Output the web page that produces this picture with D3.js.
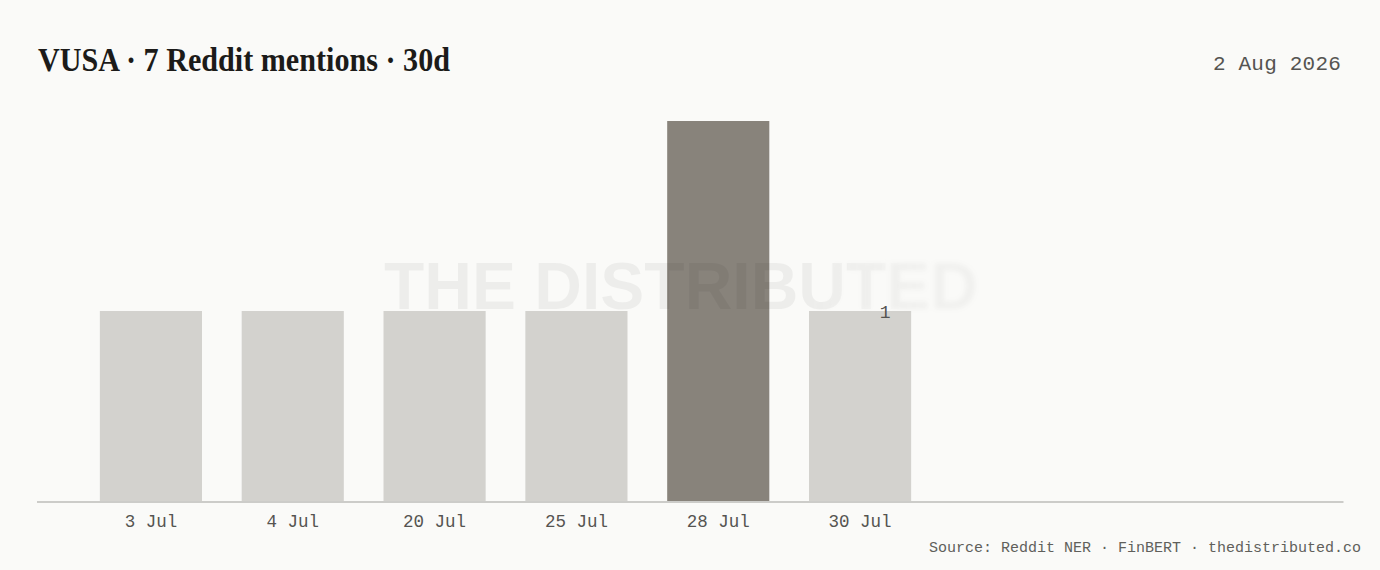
<!DOCTYPE html>
<html>
<head>
<meta charset="utf-8">
<script src="https://cdn.jsdelivr.net/npm/d3@7"></script>
<style>
  html, body { margin: 0; padding: 0; background: #fafaf8; }
  svg { display: block; }
</style>
</head>
<body>
<svg id="chart" width="1380" height="570"></svg>
<script>
const categories = ["3 Jul", "4 Jul", "20 Jul", "25 Jul", "28 Jul", "30 Jul"];
const mentions = [1, 1, 1, 1, 2, 1];
const highlight = ["28 Jul"];
const titleText = "VUSA · 7 Reddit mentions · 30d";
const dateText = "2 Aug 2026";
const sourceText = "Source: Reddit NER · FinBERT · thedistributed.co";
const watermarkText = "THE DISTRIBUTED";
const lastLabel = "1";

const svg = d3.select("#chart");
const W = 1380, H = 570;

svg.append("rect").attr("width", W).attr("height", H).attr("fill", "#fafaf8");

const x = d3.scaleBand().domain(categories).range([80, 931]).paddingInner(0.28).paddingOuter(0.14);
const y = d3.scaleLinear().domain([0, 2]).range([501, 121]);

// title
svg.append("text")
  .attr("x", 38).attr("y", 71)
  .attr("font-family", "'Liberation Serif', 'DejaVu Serif', serif")
  .attr("font-weight", "bold")
  .attr("font-size", 34)
  .attr("fill", "#1c1b19")
  .attr("textLength", 412)
  .attr("lengthAdjust", "spacingAndGlyphs")
  .text(titleText);

svg.append("text")
  .attr("x", 1341).attr("y", 70)
  .attr("text-anchor", "end")
  .attr("font-family", "'Liberation Mono', 'DejaVu Sans Mono', monospace")
  .attr("font-size", 21)
  .attr("letter-spacing", 0.2)
  .attr("fill", "#555451")
  .text(dateText);

// bars
svg.append("g").selectAll("rect")
  .data(categories.map((c, i) => ({c, v: mentions[i]})))
  .join("rect")
  .attr("x", d => x(d.c))
  .attr("width", x.bandwidth())
  .attr("y", d => y(d.v))
  .attr("height", d => y(0) - y(d.v))
  .attr("fill", d => highlight.includes(d.c) ? "#88837b" : "#d3d2ce");

// axis
const axis = svg.append("g").attr("transform", `translate(0,${y(0)})`)
  .call(d3.axisBottom(x).tickSize(0).tickPadding(14));
axis.select(".domain").remove();
axis.selectAll("text")
  .attr("font-family", "'Liberation Mono', 'DejaVu Sans Mono', monospace")
  .attr("font-size", 17.5)
  .attr("fill", "#555451");
svg.append("line")
  .attr("x1", 37).attr("x2", 1343.5)
  .attr("y1", y(0) + 1).attr("y2", y(0) + 1)
  .attr("stroke", "#bdbdba").attr("stroke-width", 1.6);

// watermark
const defs = svg.append("defs");
const g1 = defs.append("linearGradient").attr("id", "fadeA").attr("gradientUnits", "userSpaceOnUse")
  .attr("x1", 810).attr("x2", 920).attr("y1", 0).attr("y2", 0);
g1.append("stop").attr("offset", 0).attr("stop-color", "#fff");
g1.append("stop").attr("offset", 1).attr("stop-color", "#000");
const g2 = defs.append("linearGradient").attr("id", "fadeB").attr("gradientUnits", "userSpaceOnUse")
  .attr("x1", 810).attr("x2", 920).attr("y1", 0).attr("y2", 0);
g2.append("stop").attr("offset", 0).attr("stop-color", "#000");
g2.append("stop").attr("offset", 1).attr("stop-color", "#bbb");
defs.append("mask").attr("id", "mA").attr("maskUnits", "userSpaceOnUse")
  .attr("x", 0).attr("y", 0).attr("width", W).attr("height", H)
  .append("rect").attr("width", W).attr("height", H).attr("fill", "url(#fadeA)");
defs.append("mask").attr("id", "mB").attr("maskUnits", "userSpaceOnUse")
  .attr("x", 0).attr("y", 0).attr("width", W).attr("height", H)
  .append("rect").attr("width", W).attr("height", H).attr("fill", "url(#fadeB)");
defs.append("filter").attr("id", "blur").attr("x", "-10%").attr("y", "-30%").attr("width", "120%").attr("height", "160%")
  .append("feGaussianBlur").attr("stdDeviation", 2.6);

function wm(sel) {
  return sel.attr("x", 384).attr("y", 309)
    .attr("font-family", "'Liberation Sans', Arial, sans-serif")
    .attr("font-weight", "bold")
    .attr("font-size", 66)
    .attr("fill", "rgba(0,0,0,0.05)")
    .text(watermarkText);
}
svg.append("g").attr("mask", "url(#mA)").append("text").call(wm);
svg.append("g").attr("mask", "url(#mB)").append("text").attr("filter", "url(#blur)").call(wm);

// last value label
const lastCat = categories[categories.length - 1];
svg.append("text")
  .attr("x", x(lastCat) + x.bandwidth() / 2 + 25)
  .attr("y", y(mentions[mentions.length - 1]) + 7)
  .attr("text-anchor", "middle")
  .attr("font-family", "'Liberation Mono', 'DejaVu Sans Mono', monospace")
  .attr("font-size", 18)
  .attr("fill", "#555451")
  .text(lastLabel);

// source
svg.append("text")
  .attr("x", 1361).attr("y", 552)
  .attr("text-anchor", "end")
  .attr("font-family", "'Liberation Mono', 'DejaVu Sans Mono', monospace")
  .attr("font-size", 15)
  .attr("fill", "#605f5b")
  .text(sourceText);
</script>
</body>
</html>
